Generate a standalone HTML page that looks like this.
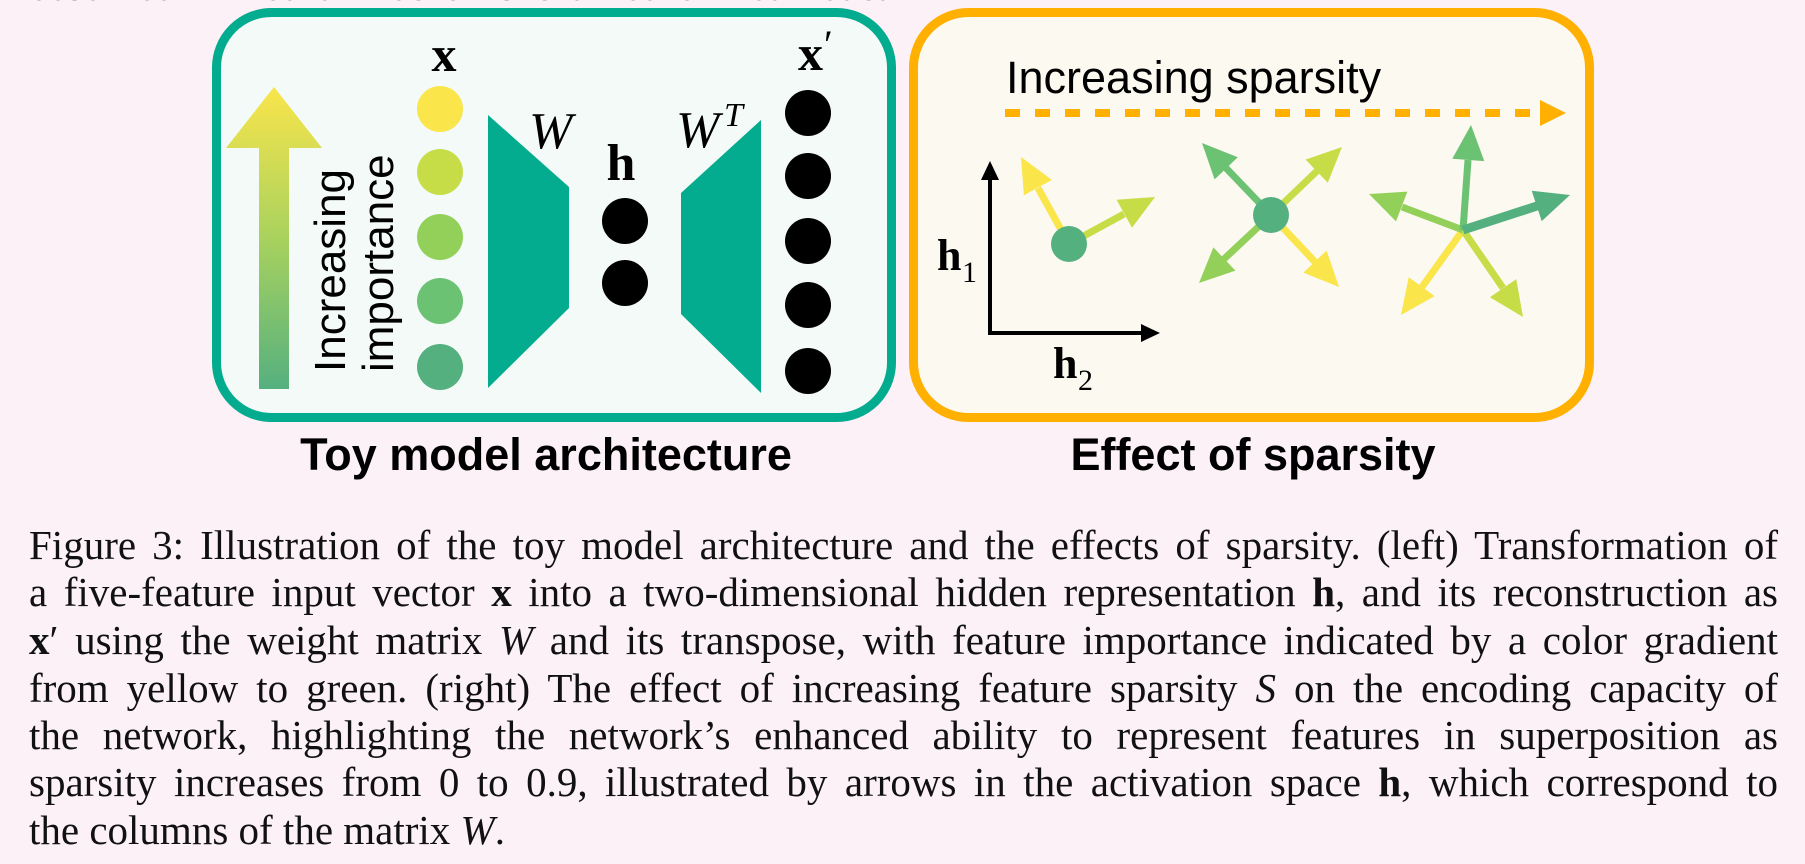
<!DOCTYPE html>
<html><head><meta charset="utf-8"><style>
html,body{margin:0;padding:0;background:#fcf1f7;width:1805px;height:864px;overflow:hidden;position:relative}
svg{position:absolute;left:0;top:0}
.cap{position:absolute;left:29px;width:1749px;font-family:"Liberation Serif",serif;font-size:41px;color:#111;text-align:justify;text-align-last:justify;white-space:nowrap;line-height:47px}
.top{position:absolute;left:30px;top:-24px;font-family:"Liberation Mono",monospace;font-size:30px;color:#222}
</style></head><body>
<div class="top">observed in neural networks trained on real data.</div>
<svg width="1805" height="864" viewBox="0 0 1805 864">
<defs>
<linearGradient id="g" x1="0" y1="0" x2="0" y2="1">
<stop offset="0" stop-color="#fae54b"/><stop offset="0.5" stop-color="#a9d25e"/><stop offset="1" stop-color="#55b07f"/>
</linearGradient>
</defs>
<rect x="216.5" y="12.5" width="675" height="405" rx="55" fill="#f3faf7" stroke="#03ab8f" stroke-width="9"/>
<rect x="913.5" y="12.5" width="676" height="405" rx="55" fill="#fbf9f0" stroke="#ffb000" stroke-width="9"/>
<polygon points="274,87 322,148 289,148 289,389 259,389 259,148 226,148" fill="url(#g)"/>
<text transform="translate(345,372) rotate(-90)" font-family="Liberation Sans,sans-serif" font-size="44">Increasing</text>
<text transform="translate(393,372) rotate(-90)" font-family="Liberation Sans,sans-serif" font-size="44">importance</text>
<text x="444" y="71" text-anchor="middle" font-family="Liberation Serif,serif" font-weight="bold" font-size="50">x</text>
<circle cx="440" cy="109" r="23" fill="#fae54b"/>
<circle cx="440" cy="172" r="23" fill="#c7dd47"/>
<circle cx="440" cy="237" r="23" fill="#92d05a"/>
<circle cx="440" cy="301" r="23" fill="#6cc273"/>
<circle cx="440" cy="367" r="23" fill="#55b07f"/>
<polygon points="488,115 569,187 569,308 488,388" fill="#03ab8f"/>
<text x="529" y="148" font-family="Liberation Serif,serif" font-style="italic" font-size="52">W</text>
<text x="621" y="180" text-anchor="middle" font-family="Liberation Serif,serif" font-weight="bold" font-size="52">h</text>
<circle cx="625" cy="221" r="23" fill="#000"/>
<circle cx="625" cy="283" r="23" fill="#000"/>
<polygon points="681,193 761,120 761,393 681,314" fill="#03ab8f"/>
<text x="676" y="147" font-family="Liberation Serif,serif" font-style="italic" font-size="52">W</text>
<text x="724" y="126" font-family="Liberation Serif,serif" font-style="italic" font-size="34">T</text>
<text x="798" y="70" font-family="Liberation Serif,serif" font-weight="bold" font-size="50">x</text>
<text x="824" y="58" font-family="Liberation Serif,serif" font-size="40">′</text>
<circle cx="808" cy="113" r="23" fill="#000"/>
<circle cx="808" cy="176" r="23" fill="#000"/>
<circle cx="808" cy="241" r="23" fill="#000"/>
<circle cx="808" cy="305" r="23" fill="#000"/>
<circle cx="808" cy="371" r="23" fill="#000"/>
<text x="1006" y="93" font-family="Liberation Sans,sans-serif" font-size="45">Increasing sparsity</text>
<line x1="1005" y1="113" x2="1540" y2="113" stroke="#ffb000" stroke-width="8" stroke-dasharray="15 15"/>
<polygon points="1540,100 1566,113 1540,126" fill="#ffb000"/>
<line x1="990" y1="335" x2="990" y2="178" stroke="#000" stroke-width="4"/>
<polygon points="990,161 981,180 999,180" fill="#000"/>
<line x1="988" y1="333" x2="1143" y2="333" stroke="#000" stroke-width="4"/>
<polygon points="1160,333 1141,324 1141,342" fill="#000"/>
<text x="937" y="270" font-family="Liberation Serif,serif" font-weight="bold" font-size="44">h</text>
<text x="962" y="282" font-family="Liberation Serif,serif" font-size="30">1</text>
<text x="1053" y="378" font-family="Liberation Serif,serif" font-weight="bold" font-size="44">h</text>
<text x="1078" y="390" font-family="Liberation Serif,serif" font-size="30">2</text>
<g stroke-width="7">
<line x1="1069" y1="244" x2="1038" y2="188" stroke="#fae54b"/>
<polygon points="1021,157 1051.9,179.9 1023.9,195.3" fill="#fae54b"/>
<line x1="1069" y1="244" x2="1124" y2="214" stroke="#c7dd47"/>
<polygon points="1155,197 1132,227.8 1116.6,199.8" fill="#c7dd47"/>
<circle cx="1069" cy="244" r="18" fill="#55b07f"/>
<line x1="1271" y1="215" x2="1226" y2="168" stroke="#6cc273"/>
<polygon points="1202,143 1237.8,157.2 1214.6,179.4" fill="#6cc273"/>
<line x1="1271" y1="215" x2="1317" y2="171" stroke="#c7dd47"/>
<polygon points="1342,147 1327.8,182.8 1305.6,159.6" fill="#c7dd47"/>
<line x1="1271" y1="215" x2="1224" y2="259" stroke="#92d05a"/>
<polygon points="1199,283 1213.4,247.4 1235.4,270.6" fill="#92d05a"/>
<line x1="1271" y1="215" x2="1315" y2="262" stroke="#fae54b"/>
<polygon points="1339,287 1303.4,272.6 1326.6,250.6" fill="#fae54b"/>
<circle cx="1271" cy="215" r="18" fill="#55b07f"/>
<line x1="1463" y1="230" x2="1422" y2="287" stroke="#fae54b"/>
<polygon points="1401,315 1408.7,277.3 1434.5,296.1" fill="#fae54b"/>
<line x1="1463" y1="230" x2="1503" y2="288" stroke="#c7dd47"/>
<polygon points="1523,317 1489.9,297.3 1516.3,279.1" fill="#c7dd47"/>
<line x1="1463" y1="230" x2="1402" y2="207" stroke="#92d05a"/>
<polygon points="1369,194 1407.4,191.6 1396,221.4" fill="#92d05a"/>
<line x1="1463" y1="230" x2="1468" y2="160" stroke="#6cc273"/>
<polygon points="1471,125 1484.3,161.1 1452.3,158.7" fill="#6cc273"/>
<line x1="1463" y1="230" x2="1537" y2="206" stroke="#55b07f" stroke-width="9"/>
<polygon points="1570,195 1541.7,221.1 1531.7,190.7" fill="#55b07f"/>
</g>
<text x="546" y="470" text-anchor="middle" font-family="Liberation Sans,sans-serif" font-weight="bold" font-size="45">Toy model architecture</text>
<text x="1253" y="470" text-anchor="middle" font-family="Liberation Sans,sans-serif" font-weight="bold" font-size="45">Effect of sparsity</text>
</svg>
<div class="cap" style="top:522px">Figure 3: Illustration of the toy model architecture and the effects of sparsity. (left) Transformation of</div>
<div class="cap" style="top:569px">a five-feature input vector <b>x</b> into a two-dimensional hidden representation <b>h</b>, and its reconstruction as</div>
<div class="cap" style="top:617px"><b>x</b>′ using the weight matrix <i>W</i> and its transpose, with feature importance indicated by a color gradient</div>
<div class="cap" style="top:665px">from yellow to green. (right) The effect of increasing feature sparsity <i>S</i> on the encoding capacity of</div>
<div class="cap" style="top:712px">the network, highlighting the network’s enhanced ability to represent features in superposition as</div>
<div class="cap" style="top:759px">sparsity increases from 0 to 0.9, illustrated by arrows in the activation space <b>h</b>, which correspond to</div>
<div class="cap" style="top:807px;text-align-last:left">the columns of the matrix <i>W</i>.</div>
</body></html>
